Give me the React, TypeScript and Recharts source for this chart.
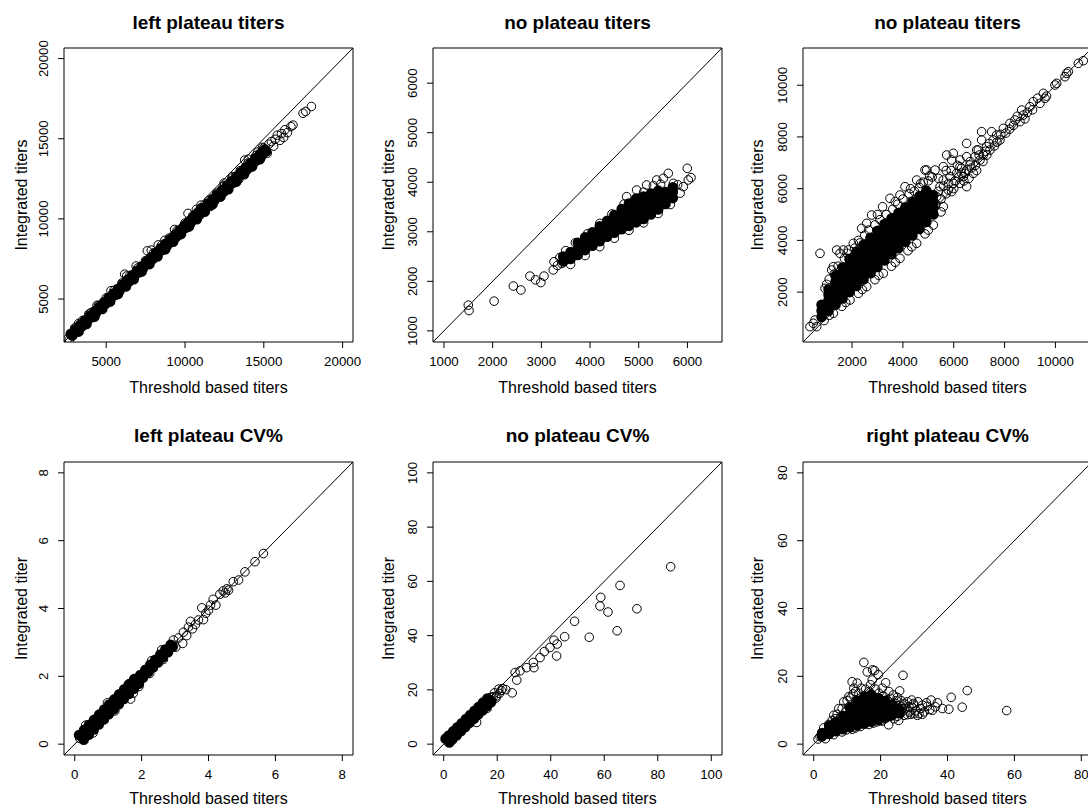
import { ScatterChart, Scatter, XAxis, YAxis, ReferenceLine, ReferenceArea } from 'recharts';

type Pt = [number, number];
type Col = [number, number[]];

// ---- left plateau titers ----
const leftTitersCore: Pt[] = [
  [2750, 2830], [2850, 2730], [3050, 3110], [3150, 3010], [3350, 3390], [3450, 3290], [3650, 3670], [3750, 3570],
  [3950, 3950], [4050, 3850], [4250, 4230], [4350, 4130], [4550, 4510], [4650, 4410], [4850, 4790], [4950, 4690],
  [5150, 5080], [5250, 4970], [5450, 5350], [5550, 5250], [5750, 5640], [5850, 5530], [6050, 5920], [6150, 5810],
  [6350, 6200], [6450, 6090], [6650, 6480], [6750, 6370], [6950, 6760], [7050, 6650], [7250, 7040], [7350, 6930],
  [7550, 7320], [7650, 7210], [7850, 7600], [7950, 7490], [8150, 7880], [8250, 7770], [8450, 8160], [8550, 8050],
  [8750, 8440], [8850, 8330], [9050, 8720], [9150, 8610], [9350, 9000], [9450, 8890], [9650, 9280], [9750, 9170],
  [9950, 9560], [10050, 9450], [10250, 9840], [10350, 9730], [10550, 10120], [10650, 10010], [10850, 10400],
  [10950, 10290], [11150, 10680], [11250, 10570], [11450, 10960], [11550, 10850], [11750, 11240], [11850, 11130],
  [12050, 11520], [12150, 11410], [12350, 11800], [12450, 11690], [12650, 12080], [12750, 11970], [12950, 12360],
  [13050, 12250], [13250, 12640], [13350, 12530], [13550, 12920], [13650, 12810], [13850, 13200], [13950, 13090],
  [14150, 13480], [14250, 13370], [14450, 13760], [14550, 13650], [14750, 14040], [14850, 13930], [15050, 14320],
  [15150, 14210],
  [3250, 2970], [3750, 3440], [4250, 3900], [4750, 4380], [5250, 4840], [5750, 5310], [6250, 5780], [6750, 6240],
  [7250, 6710], [7750, 7180], [8250, 7650], [8750, 8110], [9250, 8580], [9750, 9050], [10250, 9520], [10750, 9980],
  [11250, 10450], [11750, 10920], [12250, 11390], [12750, 11850], [13250, 12320], [13750, 12790], [14250, 13260],
  [14750, 13720],
];
const leftTitersPts: Pt[] = [
  [2570, 2530], [2660, 2460], [3250, 3480], [3900, 4060], [4420, 4610], [4720, 4440], [5300, 5520], [5620, 5240],
  [6170, 6550], [6300, 6440], [6900, 7060], [7250, 6800], [7610, 8010], [7860, 8050], [8300, 8380], [8720, 8660],
  [9120, 8520], [9340, 9340], [10190, 10340], [10470, 10020], [10720, 10590], [11020, 10860], [11620, 10780],
  [12480, 12230], [12420, 11620], [13000, 12640], [13420, 12480], [13790, 13670], [14020, 13720], [14320, 13380],
  [14620, 14160], [14920, 14460], [15220, 14100], [15320, 14660], [15480, 14820], [15620, 14540], [15720, 14960],
  [15860, 15220], [16020, 14900], [16120, 15320], [16260, 15080], [16340, 15560], [16500, 15380], [16720, 15760],
  [16850, 15850], [17490, 16590], [17660, 16700], [18020, 17010],
  [3000, 3200], [3500, 3660], [4000, 4130], [4500, 4600], [5000, 5070], [5500, 5540], [6000, 6000], [6500, 6470],
  [7000, 6940], [7500, 7400], [8000, 7870], [8500, 8340], [9000, 8810], [9500, 9280], [10000, 9740], [10500, 10210],
  [11000, 10680], [11500, 11150], [12000, 11610], [12500, 12080], [13000, 12550], [13500, 13010], [14000, 13480],
  [14500, 13950], [15000, 14420],
];
const leftTitersTicks = [5000, 10000, 15000, 20000];

// ---- no plateau titers (middle) ----
const noTitersCore: Col[] = [
  [3450, [2400, 2500]], [3600, [2450, 2590]], [3750, [2530, 2660, 2780]], [3900, [2630, 2760, 2890]],
  [4050, [2720, 2860, 2990]], [4200, [2810, 2960, 3110]], [4350, [2900, 3060, 3220]],
  [4500, [2980, 3100, 3220, 3340]], [4650, [3050, 3190, 3330, 3460]], [4800, [3120, 3270, 3420, 3570]],
  [4950, [3190, 3350, 3510, 3670]], [5100, [3260, 3410, 3560, 3710]], [5250, [3350, 3490, 3630, 3770]],
  [5400, [3450, 3580, 3710, 3830]], [5550, [3560, 3680, 3800]], [5700, [3680, 3800, 3900]],
];
const noTitersPts: Pt[] = [
  [1500, 1520], [1515, 1410], [2030, 1600], [2425, 1905], [2580, 1825], [2765, 2105], [2880, 2030], [2990, 1975],
  [3055, 2105], [3245, 2230], [3260, 2395], [3330, 2320], [3380, 2480], [3420, 2360], [3500, 2620], [3700, 2780],
  [3950, 2960], [4200, 3170], [4450, 3360], [4700, 3560], [4752, 3709], [4957, 3844], [5100, 3800], [5162, 3945],
  [5300, 3930], [5368, 4046], [5505, 4079], [5450, 3960], [5607, 4180], [5710, 3978], [5800, 3950], [5915, 3911],
  [5997, 4281], [6018, 4046], [6073, 4093], [3600, 2340], [3900, 2520], [4200, 2700], [4500, 2870], [4800, 3030],
  [5100, 3180], [5400, 3370], [5650, 3550], [5850, 3780],
];
const noTitersTicks = [1000, 2000, 3000, 4000, 5000, 6000];

// ---- no plateau titers (right) ----
const noTiters2Core: Col[] = [
  [800, [1040, 1280, 1510]],
  [1075, [1270, 1480, 1690, 1900, 2110]],
  [1350, [1510, 1730, 1960, 2180, 2410, 2630]],
  [1625, [1750, 1990, 2230, 2470, 2720, 2950]],
  [1900, [2000, 2260, 2510, 2770, 3030, 3280]],
  [2175, [2240, 2460, 2680, 2900, 3120, 3340, 3560]],
  [2450, [2490, 2710, 2930, 3160, 3380, 3610, 3830]],
  [2725, [2730, 2960, 3190, 3410, 3640, 3870, 4100]],
  [3000, [2970, 3210, 3440, 3670, 3900, 4140, 4370]],
  [3275, [3220, 3450, 3690, 3930, 4160, 4400, 4630]],
  [3550, [3460, 3690, 3920, 4150, 4380, 4620, 4850]],
  [3825, [3700, 3930, 4160, 4380, 4610, 4830, 5060]],
  [4100, [3950, 4170, 4390, 4610, 4840, 5060, 5280]],
  [4375, [4190, 4410, 4630, 4850, 5060, 5280, 5500]],
  [4650, [4440, 4690, 4950, 5200, 5460, 5710]],
  [4925, [4710, 4950, 5190, 5430, 5670, 5920]],
  [5200, [5000, 5250, 5500, 5750]],
];
const noTiters2Pts: Pt[] = [
  [542, 921], [345, 663], [476, 792], [608, 663], [739, 3499], [935, 2145], [900, 900], [1198, 2854], [1263, 2983],
  [1263, 1178], [1394, 3628], [1525, 3499], [1600, 1450], [1657, 3628], [1853, 3628], [1919, 1694], [2050, 3886],
  [2250, 4000], [2250, 1950], [2378, 4465], [2575, 4659], [2575, 2210], [2771, 4981], [2900, 2480], [3000, 5000],
  [3200, 5300], [3230, 2725], [3493, 5626], [3550, 3000], [3700, 5500], [3886, 5754], [3886, 3305], [4083, 6077],
  [4200, 3600], [4300, 6000], [4542, 6334], [4542, 3886], [4700, 6200], [4869, 6721], [4870, 4250], [4935, 6721],
  [5050, 6500], [5197, 4594], [5263, 6721], [5328, 5690], [5400, 6400], [5459, 6077], [5590, 6334], [5590, 5303],
  [5590, 6850], [5700, 6700], [5722, 7301], [5787, 5948], [5853, 6464], [5918, 5883], [5918, 7108], [5984, 6206],
  [5984, 7366], [6000, 6000], [6115, 6592], [6200, 6450], [6246, 6850], [6246, 6206], [6246, 7108], [6311, 6786],
  [6377, 6464], [6442, 6592], [6509, 6721], [6509, 6077], [6509, 7237], [6508, 7752], [6640, 6914], [6700, 6800],
  [6771, 6592], [6836, 7237], [6902, 7495], [6967, 7495], [7000, 7300], [7033, 7108], [7098, 7881], [7098, 8203],
  [7164, 7301], [7295, 7624], [7300, 7300], [7426, 7495], [7492, 8203], [7557, 7881], [7600, 7650], [7688, 8074],
  [7820, 7881], [7951, 8332], [8200, 8300], [8213, 8526], [8410, 8655], [8606, 8590], [8672, 9041], [8737, 8848],
  [8900, 8950], [8999, 9170], [9130, 9364], [9393, 9299], [9524, 9686], [9590, 9493], [9650, 9580], [9983, 10009],
  [10049, 10073], [10377, 10330], [10442, 10459], [10508, 10523], [10901, 10846], [11098, 10949],
  [1000, 2300], [1100, 2500], [1300, 2700], [1450, 3000], [1700, 3300], [1800, 3500], [2100, 3700], [2300, 3900],
  [2500, 4200], [2650, 4400], [2900, 4600], [3100, 4800], [3350, 5000], [3600, 5200], [3800, 5400], [4000, 5600],
  [4250, 5800], [4450, 5900], [4650, 6050], [4800, 6250], [5000, 6300], [5150, 6450],
  [1100, 1100], [1750, 1600], [2400, 2100], [3050, 2650], [3700, 3150], [4350, 3750], [5000, 4400], [5500, 5100],
  [5300, 5400], [5400, 5900], [5500, 5600], [5600, 6100], [5700, 5800], [5800, 6200], [5900, 6700], [6050, 6300],
  [6150, 6900], [6300, 6600], [6400, 6300], [6600, 6400], [6650, 7050], [6850, 6900], [6900, 6700], [7150, 7050],
  [7250, 7450], [7400, 7750], [7700, 7800], [7850, 8100], [8050, 8150], [8350, 8450], [8500, 8800], [8800, 8700],
  [9100, 9050], [9300, 9500],
];
const noTiters2Ticks = [2000, 4000, 6000, 8000, 10000];

// ---- left plateau CV% ----
const leftCvCore: Pt[] = [
  [0.13, 0.27], [0.27, 0.13], [0.28, 0.42], [0.42, 0.28], [0.43, 0.57], [0.57, 0.43], [0.58, 0.72], [0.72, 0.58],
  [0.73, 0.87], [0.87, 0.73], [0.88, 1.02], [1.02, 0.88], [1.03, 1.17], [1.17, 1.03], [1.18, 1.32], [1.32, 1.18],
  [1.33, 1.47], [1.47, 1.33], [1.48, 1.62], [1.62, 1.48], [1.63, 1.77], [1.77, 1.63], [1.78, 1.92], [1.92, 1.78],
  [1.96, 2.04], [2.04, 1.96], [2.11, 2.19], [2.19, 2.11], [2.26, 2.34], [2.34, 2.26], [2.41, 2.49], [2.49, 2.41],
  [2.56, 2.64], [2.64, 2.56], [2.71, 2.79], [2.79, 2.71], [2.87, 2.93], [2.93, 2.87],
];
const leftCvPts: Pt[] = [
  [0.15, 0.17], [0.55, 0.33], [0.33, 0.56], [1.2, 0.98], [0.98, 1.22], [1.6, 1.76], [1.67, 1.33], [1.75, 1.5],
  [1.92, 1.7], [2.24, 2.08], [2.3, 2.46], [2.65, 2.5], [2.6, 2.78], [2.95, 3.07], [3.02, 2.86], [3.1, 3.13],
  [3.23, 2.97], [3.25, 3.3], [3.35, 3.2], [3.4, 3.45], [3.46, 3.62], [3.52, 3.4], [3.61, 3.53], [3.7, 3.66],
  [3.8, 4.02], [3.85, 3.67], [3.92, 3.86], [4.0, 3.95], [4.06, 4.1], [4.14, 4.27], [4.22, 4.1], [4.34, 4.42],
  [4.44, 4.52], [4.5, 4.46], [4.55, 4.58], [4.6, 4.54], [4.74, 4.79], [4.9, 4.84], [5.09, 5.08], [5.39, 5.38],
  [5.64, 5.62],
];
const leftCvTicks = [0, 2, 4, 6, 8];

// ---- no plateau CV% ----
const noCvCore: Pt[] = [
  [0.7, 2.03], [2.1, 0.63], [1.9, 3.17], [3.3, 1.77], [3.5, 4.69], [4.9, 3.29], [5.1, 6.21], [6.5, 4.81],
  [6.7, 7.73], [8.1, 6.33], [8.3, 9.25], [9.7, 7.85], [9.9, 10.77], [11.3, 9.37], [11.5, 12.29], [12.9, 10.89],
  [13.1, 13.81], [14.5, 12.41], [14.7, 15.33], [16.1, 13.93], [16.3, 16.85], [17.7, 15.45],
];
const noCvPts: Pt[] = [
  [84.8, 65.4], [65.9, 58.5], [58.7, 54.1], [58.4, 50.9], [61.4, 48.7], [72.2, 49.9], [64.8, 41.8], [54.4, 39.4],
  [48.9, 45.3], [45.2, 39.6], [42.4, 36.9], [41.2, 38.3], [42.2, 32.5], [39.7, 35.6], [37.6, 34.1], [36.0, 31.9],
  [33.5, 30.1], [33.7, 28.2], [31.0, 28.2], [28.5, 27.0], [26.7, 26.4], [27.3, 23.6], [25.6, 18.9], [23.2, 20.1],
  [20.8, 18.7], [20.6, 20.3], [19.8, 17.8], [12.3, 8.0], [18.5, 17.5], [17.5, 17.2], [16.5, 16.5], [19.0, 18.9],
  [21.5, 19.8], [22.0, 20.5], [15.5, 14.0], [14.5, 13.5], [13.0, 11.8], [11.0, 9.6], [16.2, 13.2], [18.0, 16.0],
  [19.5, 17.0], [17.0, 14.8],
];
const noCvTicks = [0, 20, 40, 60, 80, 100];

// ---- right plateau CV% ----
const rightCvCore: Col[] = [
  [2.5, [2.3, 3.3]], [4.6, [3.0, 4.2, 5.4]], [6.7, [3.8, 5.2, 6.6]], [8.8, [4.4, 6.4, 8.3]],
  [10.9, [5.0, 6.9, 8.8, 10.7]], [13.0, [5.5, 7.5, 9.4, 11.2, 12.8]], [15.1, [6.0, 8.0, 10.0, 12.0, 14.0]],
  [17.2, [6.6, 8.6, 10.6, 12.6, 14.6]], [19.3, [7.2, 9.3, 11.5, 13.6]], [21.4, [7.8, 9.5, 11.2, 12.8]],
  [23.5, [8.5, 10.0, 11.6]], [25.6, [9.2, 10.3]],
];
const rightCvPts: Pt[] = [
  [1.9, 2.2], [1.3, 1.5], [3.5, 1.6], [6.0, 2.8], [8.5, 3.6], [11.5, 4.4], [14.0, 5.2], [16.5, 5.8], [19.0, 6.6],
  [20.0, 7.0], [22.4, 5.7], [24.0, 7.5], [25.4, 7.0], [28.0, 8.7], [4.5, 5.8], [6.5, 7.5], [8.0, 7.8], [9.5, 9.5],
  [10.5, 11.0], [7.5, 10.5], [9.0, 12.5], [10.5, 14.0], [11.0, 13.6], [12.5, 15.5], [14.2, 16.5], [11.5, 18.4],
  [13.0, 18.0], [15.0, 24.1], [16.0, 21.3], [17.6, 21.9], [18.2, 21.7], [19.3, 20.5], [17.5, 18.9], [20.5, 16.5],
  [21.5, 18.1], [22.5, 15.5], [23.0, 13.5], [24.5, 12.0], [24.8, 12.8], [25.7, 15.7], [26.2, 12.8], [26.7, 20.3],
  [26.0, 11.0], [27.0, 12.0], [27.5, 10.5], [27.0, 8.5], [25.0, 8.2], [28.5, 11.0], [28.5, 9.5], [29.3, 13.0],
  [29.5, 10.8], [30.0, 11.5], [30.5, 9.8], [31.0, 8.5], [31.5, 9.0], [32.0, 10.5], [32.5, 11.5], [33.7, 12.2],
  [34.7, 10.2], [35.1, 13.0], [36.4, 11.0], [40.4, 10.3], [41.1, 13.8], [44.4, 10.9], [45.9, 15.8], [57.7, 9.9],
  [24.0, 9.0], [26.5, 10.5], [29.0, 8.8], [6.0, 8.5],
  [3.0, 4.8], [5.5, 7.0], [7.0, 8.8], [8.5, 10.5], [10.0, 12.8], [11.8, 14.8], [12.0, 16.5], [13.5, 15.0],
  [15.5, 16.2], [16.5, 15.5], [17.0, 17.5], [18.5, 16.2], [19.5, 15.0], [20.8, 14.2], [22.0, 13.0], [23.8, 14.5],
  [25.0, 13.8], [26.8, 11.5], [28.0, 12.5], [29.8, 12.0], [31.2, 12.5], [33.0, 9.5], [34.0, 11.2], [30.0, 9.0],
  [32.5, 8.8], [35.5, 10.0], [37.0, 12.2], [38.5, 10.5], [22.8, 8.2], [26.0, 9.0], [20.5, 6.8], [17.8, 6.2],
  [12.5, 4.8], [9.8, 4.2],
];
const rightCvTicks = [0, 20, 40, 60, 80];

const fromPts = (p: Pt[]) => p.map(([x, y]) => ({ x, y }));
const fromCols = (c: Col[]) => c.flatMap(([x, ys]) => ys.map((y) => ({ x, y })));

const BOX_W = 289;
const AXIS_W = 64;
const RIGHT_PAD = 25;

const panels = [
  { title: 'left plateau titers', yLabel: 'Integrated titers', domain: [2320, 20660], ticks: leftTitersTicks,
    core: fromPts(leftTitersCore), pts: fromPts(leftTitersPts), boxLeft: 64, row: 0, labelOffset: 21 },
  { title: 'no plateau titers', yLabel: 'Integrated titers', domain: [775, 6710], ticks: noTitersTicks,
    core: fromCols(noTitersCore), pts: fromPts(noTitersPts), boxLeft: 433, row: 0, labelOffset: 19 },
  { title: 'no plateau titers', yLabel: 'Integrated titers', domain: [70, 11440], ticks: noTiters2Ticks,
    core: fromCols(noTiters2Core), pts: fromPts(noTiters2Pts), boxLeft: 803, row: 0, labelOffset: 18 },
  { title: 'left plateau CV%', yLabel: 'Integrated titer', domain: [-0.32, 8.32], ticks: leftCvTicks,
    core: fromPts(leftCvCore), pts: fromPts(leftCvPts), boxLeft: 64, row: 1, labelOffset: 21 },
  { title: 'no plateau CV%', yLabel: 'Integrated titer', domain: [-4, 104], ticks: noCvTicks,
    core: fromPts(noCvCore), pts: fromPts(noCvPts), boxLeft: 433, row: 1, labelOffset: 19 },
  { title: 'right plateau CV%', yLabel: 'Integrated titer', domain: [-3.2, 83.2], ticks: rightCvTicks,
    core: fromCols(rightCvCore), pts: fromPts(rightCvPts), boxLeft: 803, row: 1, labelOffset: 18 },
];

const renderRing = (props: any) => (
  <circle cx={props.cx} cy={props.cy} r={4.3} fill="none" stroke="#000" strokeWidth={1} />
);
const renderCore = (props: any) => (
  <circle cx={props.cx} cy={props.cy} r={4.3} fill="#000" stroke="#000" strokeWidth={2} />
);

const renderYTick = (props: any) => {
  const { x, y, payload } = props;
  const tx = x - 8;
  return (
    <text x={tx} y={y} transform={`rotate(-90 ${tx} ${y})`} textAnchor="middle" fontSize={13.3} fill="#000">
      {payload.value}
    </text>
  );
};

function Panel({ p }: { p: (typeof panels)[number] }) {
  const top = p.row === 0 ? 48 : 62;
  const plotH = p.row === 0 ? 294 : 293;
  const xAxisH = p.row === 0 ? 58 : 55;
  const height = top + plotH + xAxisH;
  const width = AXIS_W + BOX_W + RIGHT_PAD;
  const [lo, hi] = p.domain;
  return (
    <div style={{ position: 'absolute', left: p.boxLeft - AXIS_W, top: p.row * 400, width, height }}>
      <div
        style={{
          position: 'absolute', left: AXIS_W, width: BOX_W, top: p.row === 0 ? 13 : 26,
          textAlign: 'center', fontSize: 19, fontWeight: 'bold', lineHeight: '19px', color: '#000',
        }}
      >
        {p.title}
      </div>
      <ScatterChart width={width} height={height} margin={{ top, right: RIGHT_PAD, left: 0, bottom: 0 }}>
        <ReferenceArea x1={lo} x2={hi} y1={lo} y2={hi} fill="none" stroke="#000" strokeWidth={1} ifOverflow="visible" />
        <XAxis
          type="number" dataKey="x" domain={[lo, hi]} allowDataOverflow ticks={p.ticks} interval={0}
          height={xAxisH} axisLine={false} tickLine={{ stroke: '#000' }} tickSize={6} tickMargin={9}
          tick={{ fontSize: 13.3, fill: '#000' }}
          label={{ value: 'Threshold based titers', position: 'insideBottom', offset: p.row === 0 ? 7 : 6, fill: '#000', fontSize: 16 }}
        />
        <YAxis
          type="number" dataKey="y" domain={[lo, hi]} allowDataOverflow ticks={p.ticks} interval={0}
          width={AXIS_W} axisLine={false} tickLine={{ stroke: '#000' }} tickSize={6} tickMargin={2}
          tick={renderYTick}
          label={{ value: p.yLabel, angle: -90, position: 'insideLeft', offset: p.labelOffset, style: { textAnchor: 'middle' }, fill: '#000', fontSize: 16 }}
        />
        <Scatter data={p.core} shape={renderCore} isAnimationActive={false} />
        <Scatter data={p.pts} shape={renderRing} isAnimationActive={false} />
        <ReferenceLine segment={[{ x: lo, y: lo }, { x: hi, y: hi }]} stroke="#000" strokeWidth={1} ifOverflow="visible" />
      </ScatterChart>
    </div>
  );
}

export default function App() {
  return (
    <div
      style={{
        position: 'absolute', left: 0, top: 0, width: 1088, height: 810, overflow: 'hidden', background: '#fff',
        fontFamily: '"Liberation Sans", Arial, Helvetica, sans-serif',
      }}
    >
      {panels.map((p, i) => (
        <Panel key={i} p={p} />
      ))}
    </div>
  );
}
